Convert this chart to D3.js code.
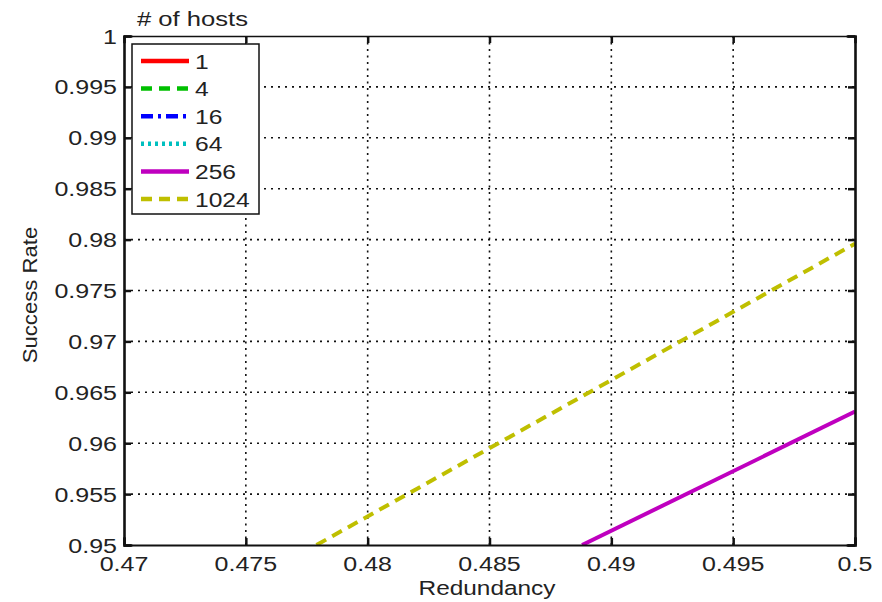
<!DOCTYPE html>
<html><head><meta charset="utf-8">
<script src="https://cdn.jsdelivr.net/npm/d3@7"></script>
<style>body{margin:0;background:#fff}svg{display:block}text{font-family:"Liberation Sans",Arial,sans-serif;fill:#222}</style>
</head><body><svg id="c" width="882" height="602"></svg>
<script>
const hostLabels = ["1","4","16","64","256","1024"];
const seriesColors = ["#ff0000","#00c000","#0000ff","#00bfbf","#bf00bf","#bfbf00"];
const seriesDash = [null,"11,7","12,5,3,5","3,4",null,"11,7"];
const xTicks = [0.47,0.475,0.48,0.485,0.49,0.495,0.5];
const yTicks = [0.95,0.955,0.96,0.965,0.97,0.975,0.98,0.985,0.99,0.995,1];
const xTickLabels = ["0.47","0.475","0.48","0.485","0.49","0.495","0.5"];
const yTickLabels = ["0.95","0.955","0.96","0.965","0.97","0.975","0.98","0.985","0.99","0.995","1"];
// series values (redundancy, success rate); hosts 1..64 fall outside the visible range
const redund1 = [], rate1 = [];
const redund4 = [], rate4 = [];
const redund16 = [], rate16 = [];
const redund64 = [], rate64 = [];
const redund256 = [0.4888, 0.5], rate256 = [0.95, 0.9631];
const redund1024 = [0.4779, 0.5], rate1024 = [0.95, 0.9796];

const series = [[redund1,rate1],[redund4,rate4],[redund16,rate16],[redund64,rate64],[redund256,rate256],[redund1024,rate1024]]
  .map((s,i)=>({label:hostLabels[i],color:seriesColors[i],dash:seriesDash[i],pts:s[0].map((x,j)=>[x,s[1][j]])}));

const svg = d3.select("#c");
const L=124,R=855,T=36,B=545;
const x = d3.scaleLinear().domain([0.47,0.5]).range([L,R]);
const y = d3.scaleLinear().domain([0.95,1]).range([B,T]);
const SX = 1.22, FS = 20.5;

// grid
const g = svg.append("g");
g.selectAll("line.vg").data(xTicks.slice(1,-1)).join("line")
  .attr("x1",d=>x(d)).attr("x2",d=>x(d)).attr("y1",T).attr("y2",B)
  .attr("stroke","#111").attr("stroke-width",1.6).attr("stroke-dasharray","2,4.5");
g.selectAll("line.hg").data(yTicks.slice(1,-1)).join("line")
  .attr("y1",d=>y(d)).attr("y2",d=>y(d)).attr("x1",L).attr("x2",R)
  .attr("stroke","#111").attr("stroke-width",1.6).attr("stroke-dasharray","2,5");

// data lines
svg.append("clipPath").attr("id","clip").append("rect").attr("x",L).attr("y",T).attr("width",R-L).attr("height",B-T);
const line = d3.line().x(d=>x(d[0])).y(d=>y(d[1]));
svg.append("g").attr("clip-path","url(#clip)").selectAll("path").data(series.filter(s=>s.pts.length)).join("path")
  .attr("d",d=>line(d.pts)).attr("fill","none").attr("stroke",d=>d.color).attr("stroke-width",4)
  .attr("stroke-dasharray",d=>d.dash);

// axes box & ticks (inward, all sides)
const axB = d3.axisBottom(x).tickValues(xTicks).tickSize(-7).tickFormat((d,i)=>"");
const axT = d3.axisTop(x).tickValues(xTicks).tickSize(-7).tickFormat(()=>"");
const axL = d3.axisLeft(y).tickValues(yTicks).tickSize(-7).tickFormat(()=>"");
const axR = d3.axisRight(y).tickValues(yTicks).tickSize(-7).tickFormat(()=>"");
function style(sel,w){sel.selectAll("path").attr("stroke","#111").attr("stroke-width",w);sel.selectAll("line").attr("stroke","#111").attr("stroke-width",2.5);}
style(svg.append("g").attr("transform",`translate(0,${B})`).call(axB),2.2);
style(svg.append("g").attr("transform",`translate(0,${T})`).call(axT),1.5);
style(svg.append("g").attr("transform",`translate(${L},0)`).call(axL),2.6);
style(svg.append("g").attr("transform",`translate(${R},0)`).call(axR),2.6);
svg.selectAll(".domain").attr("stroke-linecap","square");

// tick labels
svg.append("g").selectAll("text").data(xTicks).join("text")
  .attr("transform",d=>`translate(${x(d)},${570.5}) scale(${SX},1)`)
  .attr("text-anchor","middle").attr("font-size",FS).text((d,i)=>xTickLabels[i]);
svg.append("g").selectAll("text").data(yTicks).join("text")
  .attr("transform",d=>`translate(117,${y(d)+7.5}) scale(${SX},1)`)
  .attr("text-anchor","end").attr("font-size",FS).text((d,i)=>yTickLabels[i]);

// axis titles
svg.append("text").attr("transform",`translate(487,595) scale(1.19,1)`).attr("text-anchor","middle").attr("font-size",FS).text("Redundancy");
svg.append("text").attr("transform",`translate(37,295) rotate(-90) scale(1.08,1)`).attr("text-anchor","middle").attr("font-size",FS).text("Success Rate");
svg.append("text").attr("transform",`translate(137,26) scale(1.25,1)`).attr("font-size",FS).text("# of hosts");

// legend
const lg = svg.append("g");
lg.append("rect").attr("x",132).attr("y",44).attr("width",127).attr("height",170).attr("fill","#fff").attr("stroke","#111").attr("stroke-width",1.5);
const ly = d3.scalePoint().domain(hostLabels).range([61,199]);
lg.selectAll("line").data(series).join("line")
  .attr("x1",141).attr("x2",189).attr("y1",d=>ly(d.label)).attr("y2",d=>ly(d.label))
  .attr("stroke",d=>d.color).attr("stroke-width",4.5).attr("stroke-dasharray",d=>d.dash);
lg.selectAll("text").data(series).join("text")
  .attr("transform",d=>`translate(195,${ly(d.label)+7.5}) scale(1.2,1)`)
  .attr("font-size",FS).text(d=>d.label);
</script></body></html>
